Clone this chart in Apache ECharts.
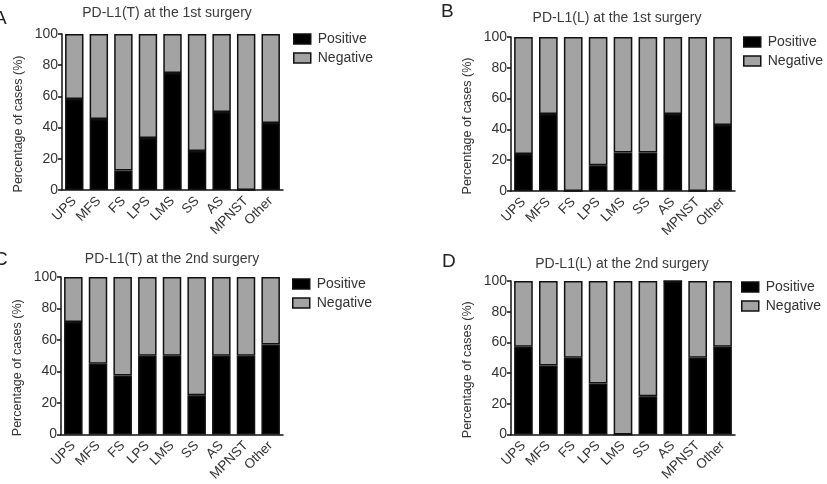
<!DOCTYPE html>
<html>
<head>
<meta charset="utf-8">
<script src="https://cdn.jsdelivr.net/npm/echarts@6/dist/echarts.min.js"></script>
<style>
  html, body { margin: 0; padding: 0; background: #fff; }
  #main { width: 827px; height: 484px; }
</style>
</head>
<body>
<div id="main"></div>
<script>
// 肉瘤亚型
var categories = ['UPS', 'MFS', 'FS', 'LPS', 'LMS', 'SS', 'AS', 'MPNST', 'Other'];
var yTicks = [0, 20, 40, 60, 80, 100];

// A: PD-L1(T) 1st surgery
var posA = [58.3, 45.5, 12.5, 33.3, 75, 25, 50, 0, 42.9];
var negA = [41.7, 54.5, 87.5, 66.7, 25, 75, 50, 100, 57.1];
// B: PD-L1(L) 1st surgery
var posB = [24, 50, 0, 16.7, 25, 25, 50, 0, 42.9];
var negB = [76, 50, 100, 83.3, 75, 75, 50, 100, 57.1];
// C: PD-L1(T) 2nd surgery
var posC = [71.4, 45, 37.5, 50, 50, 25, 50, 50, 57.1];
var negC = [28.6, 55, 62.5, 50, 50, 75, 50, 50, 42.9];
// D: PD-L1(L) 2nd surgery
var posD = [57.1, 45, 50, 33.3, 0, 25, 100, 50, 57.1];
var negD = [42.9, 55, 50, 66.7, 100, 75, 0, 50, 42.9];

var panels = [
    {letter: 'A', title: 'PD-L1(T) at the 1st surgery', pos: posA, neg: negA,
     grid: {left: 62, top: 34, width: 221, height: 156}, tx: 167, ty: 6, lx: -6, ly: 9, legX: 293, legY: 32},
    {letter: 'B', title: 'PD-L1(L) at the 1st surgery', pos: posB, neg: negB,
     grid: {left: 511, top: 37, width: 224, height: 154}, tx: 617, ty: 11, lx: 441, ly: 2, legX: 743, legY: 35},
    {letter: 'C', title: 'PD-L1(T) at the 2nd surgery', pos: posC, neg: negC,
     grid: {left: 61, top: 277, width: 222, height: 158}, tx: 172, ty: 252, lx: -6, ly: 250, legX: 292, legY: 277},
    {letter: 'D', title: 'PD-L1(L) at the 2nd surgery', pos: posD, neg: negD,
     grid: {left: 511, top: 281, width: 224, height: 155}, tx: 622, ty: 257, lx: 442, ly: 252, legX: 741, legY: 280}
];

var fontFam = '"Liberation Sans", Arial, sans-serif';
var titles = [], grids = [], xAxes = [], yAxes = [], series = [], legends = [];

panels.forEach(function (p, i) {
    titles.push({
        text: p.title, left: p.tx, top: p.ty, padding: 0, textAlign: 'center',
        textStyle: {fontSize: 14, fontWeight: 'normal', color: '#3a3a3a', fontFamily: fontFam}
    });
    titles.push({
        text: p.letter, left: p.lx, top: p.ly, padding: 0,
        textStyle: {fontSize: 19, fontWeight: 'normal', color: '#222', fontFamily: fontFam}
    });
    grids.push({left: p.grid.left, top: p.grid.top, width: p.grid.width, height: p.grid.height, containLabel: false});
    xAxes.push({
        type: 'category', gridIndex: i, data: categories,
        axisLine: {lineStyle: {color: '#111', width: 1.5}},
        axisTick: {alignWithLabel: true, length: 5, lineStyle: {color: '#111', width: 1.5}},
        axisLabel: {interval: 0, rotate: 45, fontSize: 13.5, color: '#333', margin: 9, fontFamily: fontFam}
    });
    yAxes.push({
        type: 'value', gridIndex: i, min: yTicks[0], max: yTicks[yTicks.length - 1], interval: 20,
        name: 'Percentage of cases (%)', nameLocation: 'middle', nameRotate: 90, nameGap: 37,
        nameTextStyle: {fontSize: 12.5, color: '#333', fontFamily: fontFam, padding: [0, 24, 0, 0]},
        axisLine: {show: true, lineStyle: {color: '#111', width: 1.5}},
        axisTick: {show: true, length: 4, lineStyle: {color: '#111', width: 1.5}},
        axisLabel: {fontSize: 14, color: '#333', margin: 4, fontFamily: fontFam},
        splitLine: {show: false}
    });
    series.push({
        name: 'Positive', type: 'bar', stack: 's' + i, xAxisIndex: i, yAxisIndex: i,
        data: p.pos, barCategoryGap: '25%',
        itemStyle: {color: '#000', borderColor: '#111', borderWidth: 1.5}
    });
    series.push({
        name: 'Negative', type: 'bar', stack: 's' + i, xAxisIndex: i, yAxisIndex: i,
        data: p.neg, barCategoryGap: '25%',
        itemStyle: {color: '#a3a3a3', borderColor: '#111', borderWidth: 1.5}
    });
    legends.push({
        data: ['Positive', 'Negative'], orient: 'vertical', left: p.legX, top: p.legY,
        padding: 0, itemGap: 5, itemWidth: 17, itemHeight: 10, icon: 'rect',
        selectedMode: false,
        itemStyle: {borderColor: '#111', borderWidth: 1.5},
        textStyle: {fontSize: 14, color: '#333', fontFamily: fontFam, padding: [0, 0, 0, 2]}
    });
});

var myChart = echarts.init(document.getElementById('main'));
myChart.setOption({
    backgroundColor: '#fff',
    animation: false,
    title: titles,
    grid: grids,
    xAxis: xAxes,
    yAxis: yAxes,
    legend: legends,
    series: series
});
</script>
</body>
</html>
